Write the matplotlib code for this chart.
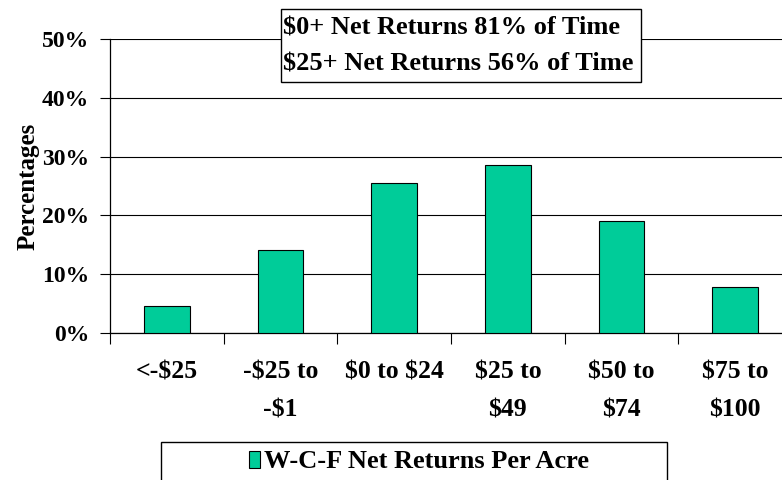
"""Distribution of W-C-F net returns per acre"""

import matplotlib
matplotlib.use('Agg')
import matplotlib.pyplot as plt
from matplotlib.patches import Rectangle
from matplotlib.ticker import FixedLocator, PercentFormatter

categories = ['<-$25', '-$25 to\n-$1', '$0 to $24', '$25 to\n$49', '$50 to\n$74', '$75 to\n$100']
shares = [0.046, 0.141, 0.255, 0.286, 0.190, 0.079]
series_label = 'W-C-F Net Returns Per Acre'
note_lines = ['$0+ Net Returns 81% of Time', '$25+ Net Returns 56% of Time']
y_ticks = [0.0, 0.1, 0.2, 0.3, 0.4, 0.5]

bar_color = '#00CC99'

plt.rcParams['font.family'] = 'Liberation Serif'
plt.rcParams['font.weight'] = 'bold'
plt.rcParams['axes.labelweight'] = 'bold'
plt.rcParams['text.parse_math'] = False  # dollar signs are literal here

W, H = 782, 480
fig = plt.figure(figsize=(W / 100, H / 100), dpi=100)

# plot area in pixel terms, converted to figure fractions (right edge runs off the image)
ax = fig.add_axes([110 / W, 147 / H, 682 / W, 294 / H])

positions = list(range(len(categories)))
bars = ax.bar(positions, shares, width=0.4, color=bar_color, edgecolor='black',
              linewidth=0.8, label=series_label, zorder=3)

ax.set_xlim(-0.5, len(categories) - 0.5)
ax.set_ylim(0, 0.5)

# y axis: percent labels, horizontal grid
ax.set_yticks(y_ticks)
ax.yaxis.set_major_formatter(PercentFormatter(xmax=1, decimals=0))
ax.tick_params(axis='y', direction='out', length=7, width=0.8, pad=8, labelsize=17)
ax.grid(axis='y', color='black', linewidth=0.8, zorder=0)
ax.set_ylabel('Percentages', fontsize=18, labelpad=2)

# x axis: tick marks between categories, labels centred under bars
ax.xaxis.set_major_locator(FixedLocator([p - 0.5 for p in positions] + [positions[-1] + 0.5]))
ax.xaxis.set_major_formatter(plt.NullFormatter())
ax.xaxis.set_minor_locator(FixedLocator(positions))
ax.set_xticklabels(categories, minor=True, linespacing=1.8, va='top')
ax.tick_params(axis='x', which='major', direction='out', length=8, width=0.8)
ax.tick_params(axis='x', which='minor', length=0, pad=20, labelsize=18.5)

for side in ['top', 'right']:
    ax.spines[side].set_visible(False)
for side in ['left', 'bottom']:
    ax.spines[side].set_linewidth(0.9)

# annotation box at the top
note_box = Rectangle((280.7 / W, (H - 81.7) / H), (641 - 280.7) / W, (81.7 - 9.3) / H,
                     transform=fig.transFigure, facecolor='white', edgecolor='black',
                     linewidth=1.0, zorder=5)
fig.patches.append(note_box)
for line, y_px in zip(note_lines, [28.5, 64.5]):
    fig.text(283 / W, (H - y_px) / H, line, fontsize=19, va='center', ha='left', zorder=6)

# legend box, cut off by the bottom edge
legend_box = Rectangle((160.6 / W, (H - 492) / H), (667 - 160.6) / W, (492 - 442) / H,
                       transform=fig.transFigure, facecolor='white', edgecolor='black',
                       linewidth=1.0, zorder=5, clip_on=False)
fig.patches.append(legend_box)
leg = fig.legend(handles=[bars], labels=[series_label], loc='center',
                 bbox_to_anchor=(419 / W, (H - 462) / H), frameon=False, fontsize=19,
                 handlelength=0.45, handleheight=0.62, handletextpad=0.15, borderpad=0)
leg.set_zorder(6)

fig.savefig('out.png', dpi=100)
